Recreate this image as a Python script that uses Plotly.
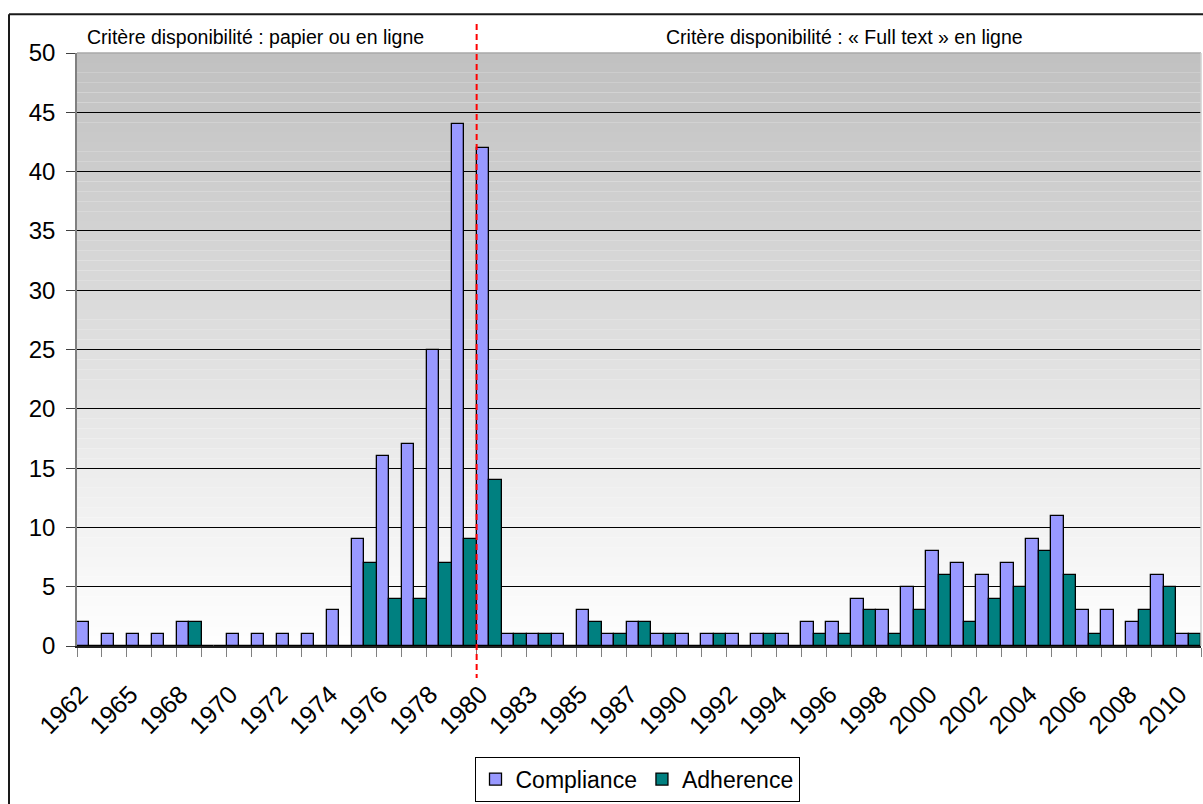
import plotly.graph_objects as go

# ---------------- data ----------------
years = ["1962", "1963", "1965", "1966", "1968", "1969", "1970", "1971", "1972",
         "1973", "1974", "1975", "1976", "1977", "1978", "1979", "1980", "1981",
         "1983", "1984", "1985", "1986", "1987", "1988", "1990", "1991", "1992",
         "1993", "1994", "1995", "1996", "1997", "1998", "1999", "2000", "2001",
         "2002", "2003", "2004", "2005", "2006", "2007", "2008", "2009", "2010"]

compliance = [2, 1, 1, 1, 2, 0, 1, 1, 1, 1, 3, 9, 16, 17, 25, 44, 42, 1, 1, 1,
              3, 1, 2, 1, 1, 1, 1, 1, 1, 2, 2, 4, 3, 5, 8, 7, 6, 7, 9, 11,
              3, 3, 2, 6, 1]

adherence = [0, 0, 0, 0, 2, 0, 0, 0, 0, 0, 0, 7, 4, 4, 7, 9, 14, 1, 1, 0,
             2, 1, 2, 1, 0, 1, 0, 1, 0, 1, 1, 3, 1, 3, 6, 2, 4, 5, 8, 6,
             1, 0, 3, 5, 1]

tick_labels = ["1962", "1965", "1968", "1970", "1972", "1974", "1976", "1978",
               "1980", "1983", "1985", "1987", "1990", "1992", "1994", "1996",
               "1998", "2000", "2002", "2004", "2006", "2008", "2010"]

split_year = "1980"
section_labels = ["Critère disponibilité : papier ou en ligne",
                  "Critère disponibilité : « Full text » en ligne"]

# ---------------- layout geometry ----------------
W, H = 1203, 804
L, R, T, B = 77, 2, 53, 156
PW, PH = W - L - R, H - T - B


def px_x(px):
    return (px - L) / PW


def px_y(py):
    return (H - B - py) / PH


FONT = "Liberation Sans, Arial, sans-serif"

fig = go.Figure()
fig.add_trace(go.Bar(x=years, y=compliance, name="Compliance",
                     marker=dict(color="#9999FF", line=dict(color="#000000", width=1.3))))
fig.add_trace(go.Bar(x=years, y=adherence, name="Adherence",
                     marker=dict(color="#008080", line=dict(color="#000000", width=1.3))))

shapes = []
# gradient plot background (grey at top -> white at bottom)
N = 60
for k in range(N):
    f0, f1 = k / N, (k + 1) / N
    fm = (f0 + f1) / 2
    g = round(255 - (255 - 192) * fm)
    shapes.append(dict(type="rect", xref="x domain", yref="y domain",
                       x0=0, x1=1, y0=f0, y1=f1, layer="below",
                       fillcolor=f"rgb({g},{g},{g})", line=dict(width=0)))

# plot-area border (light grey top/right)
shapes.append(dict(type="line", xref="x domain", yref="y domain", x0=0, x1=1, y0=1, y1=1,
                   line=dict(color="#a8a8a8", width=1.5), layer="above"))
shapes.append(dict(type="line", xref="x domain", yref="y domain", x0=1, x1=1, y0=0, y1=1,
                   line=dict(color="#d0d0d0", width=1.5), layer="above"))

# outer chart border (top and left visible)
shapes.append(dict(type="line", xref="paper", yref="paper",
                   x0=px_x(9), x1=px_x(W + 20), y0=px_y(14), y1=px_y(14),
                   line=dict(color="#1a1a1a", width=2)))
shapes.append(dict(type="line", xref="paper", yref="paper",
                   x0=px_x(9), x1=px_x(9), y0=px_y(14), y1=px_y(H + 20),
                   line=dict(color="#1a1a1a", width=2)))

# red dashed separator between the two periods
split_pos = years.index(split_year) - 0.5
shapes.append(dict(type="line", xref="x", yref="paper",
                   x0=split_pos, x1=split_pos, y0=px_y(24), y1=px_y(680),
                   line=dict(color="#ff0000", width=2, dash="6px,4px"), layer="above"))

annotations = [
    dict(text=section_labels[0], xref="paper", yref="paper", x=px_x(255), y=px_y(37),
         showarrow=False, xanchor="center", yanchor="middle",
         font=dict(family=FONT, size=19.5, color="#000000")),
    dict(text=section_labels[1], xref="paper", yref="paper", x=px_x(844), y=px_y(37),
         showarrow=False, xanchor="center", yanchor="middle",
         font=dict(family=FONT, size=19.5, color="#000000")),
]

fig.update_layout(
    width=W, height=H,
    margin=dict(l=L, r=R, t=T, b=B, pad=0),
    paper_bgcolor="#ffffff",
    plot_bgcolor="#ffffff",
    barmode="group", bargap=0, bargroupgap=0,
    font=dict(family=FONT, color="#000000"),
    shapes=shapes,
    annotations=annotations,
    showlegend=True,
    legend=dict(orientation="h", x=px_x(637), xanchor="center",
                y=px_y(759), yanchor="top",
                bgcolor="#ffffff", bordercolor="#000000", borderwidth=1,
                font=dict(family=FONT, size=23, color="#000000"),
                itemwidth=30, tracegroupgap=0),
)

fig.update_xaxes(
    type="category", categoryorder="array", categoryarray=years,
    tickmode="array", tickvals=years,
    ticktext=[y if y in tick_labels else "" for y in years],
    tickson="boundaries", ticks="outside", ticklen=9, tickcolor="#808080", tickwidth=1,
    tickangle=-45, tickfont=dict(family=FONT, size=25, color="#000000"),
    ticklabelstandoff=22, ticklabelshift=-9,
    showline=True, linecolor="#202020", linewidth=1.5,
    showgrid=False, zeroline=False,
    range=[-0.5, len(years) - 0.5],
)
fig.update_yaxes(
    range=[0, 50], tickmode="linear", tick0=0, dtick=5,
    ticks="outside", ticklen=9, tickcolor="#404040", tickwidth=1,
    tickfont=dict(family=FONT, size=24, color="#000000"),
    ticklabelstandoff=6,
    showline=True, linecolor="#808080", linewidth=1.5,
    showgrid=True, gridcolor="#000000", gridwidth=1,
    zeroline=False,
)

fig.write_html("out.html",
               config={"displayModeBar": False},
               post_script="document.body.style.margin='0';document.body.style.overflow='hidden';")
